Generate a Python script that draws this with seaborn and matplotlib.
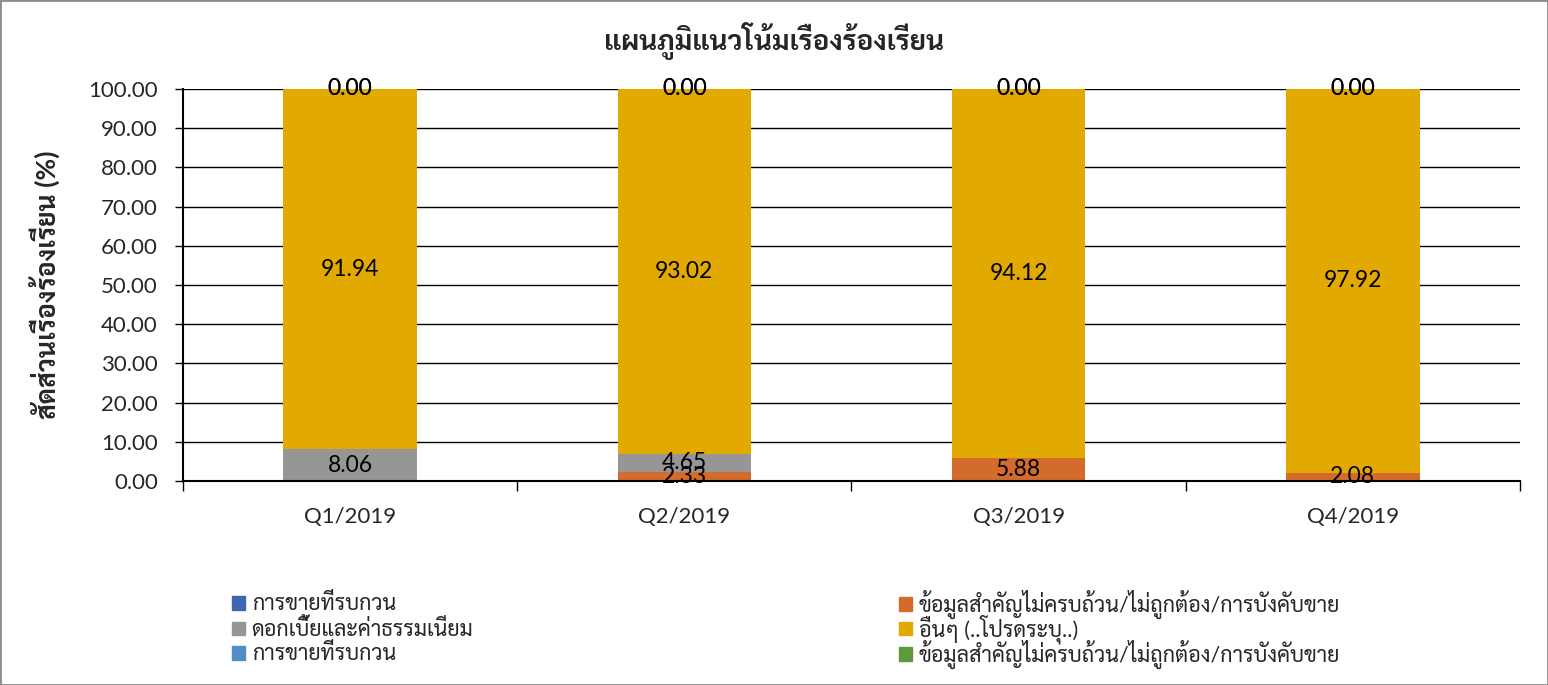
import matplotlib
matplotlib.use("Agg")
import matplotlib.pyplot as plt
from matplotlib.patches import Rectangle
import seaborn as sns
import numpy as np

quarters = ["Q1/2019", "Q2/2019", "Q3/2019", "Q4/2019"]
series_names = ["การขายที่รบกวน",
                "ข้อมูลสำคัญไม่ครบถ้วน/ไม่ถูกต้อง/การบังคับขาย",
                "ดอกเบี้ยและค่าธรรมเนียม",
                "อื่นๆ (..โปรดระบุ..)",
                "การขายที่รบกวน",
                "ข้อมูลสำคัญไม่ครบถ้วน/ไม่ถูกต้อง/การบังคับขาย"]
disturbing_sales = [0.0, 0.0, 0.0, 0.0]
incomplete_info = [0.0, 2.33, 5.88, 2.08]
interest_fees = [8.06, 4.65, 0.0, 0.0]
others = [91.94, 93.02, 94.12, 97.92]
disturbing_sales_2 = [0.0, 0.0, 0.0, 0.0]
incomplete_info_2 = [0.0, 0.0, 0.0, 0.0]
series_values = [disturbing_sales, incomplete_info, interest_fees, others,
                 disturbing_sales_2, incomplete_info_2]
colors = ["#3F66B0", "#D36B2C", "#969696", "#E2AA00", "#4F8FC6", "#5E9A3C"]
# only the last two series show their 0.00 label (at the top of the stack)
show_zero = [False, False, False, False, True, True]

sns.set_style("white")
plt.rcParams['font.family'] = ['Lato', 'Sarabun', 'DejaVu Sans']

fig = plt.figure(figsize=(15.48, 6.85), dpi=100)
ax = fig.add_axes([0.1182, 0.2978, 0.8637, 0.5723])

bottom = np.zeros(len(quarters))
handles = []
for name, vals, col, sz in zip(series_names, series_values, colors, show_zero):
    sns.barplot(x=quarters, y=vals, bottom=bottom, color=col, width=0.4,
                ax=ax, saturation=1, label=name, linewidth=0)
    cont = ax.containers[-1]
    labels = [f"{v:.2f}" if (v > 0 or sz) else "" for v in vals]
    ax.bar_label(cont, labels=labels, label_type="center", fontsize=16.5, color="black")
    handles.append(Rectangle((0, 0), 1, 1, color=col))
    bottom = bottom + np.array(vals)

if ax.get_legend() is not None:
    ax.get_legend().remove()

ax.set_ylim(0, 100)
ax.set_xlim(-0.5, 3.5)
ax.set_yticks(np.arange(0, 101, 10))
ax.set_yticklabels([f"{v:.2f}" for v in np.arange(0, 101, 10)], fontsize=16)
ax.tick_params(axis="x", length=0, labelsize=16, pad=19)
ax.set_xticks(np.arange(-0.5, 3.6, 1.0), minor=True)
ax.tick_params(axis="x", which="minor", length=7, width=1, color="black", direction="out", bottom=True)
ax.tick_params(axis="y", length=6, width=1, color="black", direction="out", left=True, pad=12)
ax.yaxis.grid(True, color="black", linewidth=1)
ax.set_axisbelow(True)
for s in ["top", "right"]:
    ax.spines[s].set_visible(False)
for s in ["left", "bottom"]:
    ax.spines[s].set_color("black")
    ax.spines[s].set_linewidth(1.5)
ax.set_xlabel("")
ax.set_ylabel("สัดส่วนเรื่องร้องเรียน (%)", fontsize=19, fontweight="bold")
ax.yaxis.set_label_coords(-0.092, 0.5)

fig.suptitle("แผนภูมิแนวโน้มเรื่องร้องเรียน", fontsize=20, fontweight="bold", y=0.968)

# Excel-style legend: 2 columns x 3 rows, each entry placed on its own row
leg_kw = dict(frameon=False, fontsize=15.5, handlelength=0.6, handleheight=0.6,
              handletextpad=0.3, borderpad=0, borderaxespad=0, loc="center left")
col_x = [0.150, 0.581]
row_y = [1 - 604 / 685, 1 - 629 / 685, 1 - 654 / 685]
for i, (h, name) in enumerate(zip(handles, series_names)):
    fig.legend([h], [name], bbox_to_anchor=(col_x[i % 2], row_y[i // 2]), **leg_kw)

fig.patches.append(Rectangle((0, 0), 1, 1, transform=fig.transFigure, fill=False,
                             edgecolor="#8c8c8c", linewidth=2))

fig.savefig("out.png", dpi=100)
